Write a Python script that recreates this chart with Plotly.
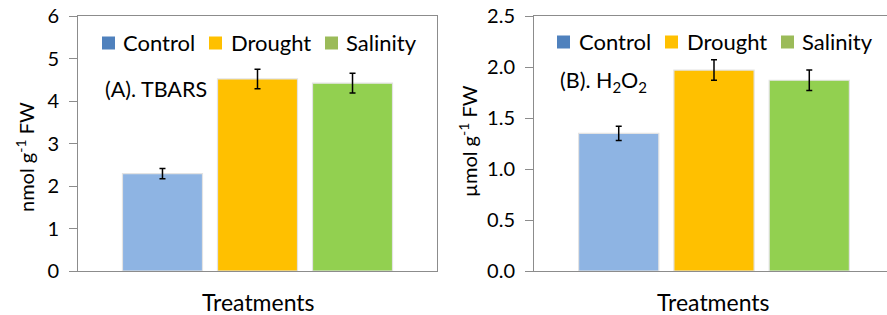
import plotly.graph_objects as go

# ---- data ----
treatments = ["Control", "Drought", "Salinity"]
tbars_vals = [2.29, 4.52, 4.42]
tbars_err = [0.12, 0.23, 0.23]
h2o2_vals = [1.35, 1.97, 1.87]
h2o2_err = [0.07, 0.10, 0.10]
bar_colors = ["#8EB4E3", "#FFC000", "#92D050"]
legend_colors = ["#4F81BD", "#FFC000", "#9BBB59"]
tbars_ticks = [0, 1, 2, 3, 4, 5, 6]
h2o2_ticks = [0.0, 0.5, 1.0, 1.5, 2.0, 2.5]
h2o2_ticktext = ["0.0", "0.5", "1.0", "1.5", "2.0", "2.5"]
x_cat = ["Treatments"]

W, H = 887, 315
FONT = "Lato"
AX = "#8C8C8C"

fig = go.Figure()
for i, t in enumerate(treatments):
    fig.add_trace(go.Bar(
        x=x_cat, y=[tbars_vals[i]], name=t, showlegend=False,
        marker=dict(color=bar_colors[i], line=dict(color="#E3E3E3", width=1.2)),
        error_y=dict(type="data", array=[tbars_err[i]], color="black", thickness=1.5, width=3),
        xaxis="x", yaxis="y", offsetgroup=str(i)))
for i, t in enumerate(treatments):
    fig.add_trace(go.Bar(
        x=x_cat, y=[h2o2_vals[i]], name=t, showlegend=False,
        marker=dict(color=bar_colors[i], line=dict(color="#E3E3E3", width=1.2)),
        error_y=dict(type="data", array=[h2o2_err[i]], color="black", thickness=1.5, width=3),
        xaxis="x2", yaxis="y2", offsetgroup=str(i)))

def px(x):
    return x / W

def py(y):
    return 1 - y / H

ydom = [py(271), py(16)]
axis_common = dict(showline=True, linecolor=AX, linewidth=1, showgrid=False, zeroline=False,
                   automargin=False)

fig.update_layout(
    width=W, height=H, margin=dict(l=0, r=0, t=0, b=0, pad=0, autoexpand=False),
    paper_bgcolor="white", plot_bgcolor="white",
    barmode="group", bargap=0.206, bargroupgap=0.158,
    showlegend=False,
    font=dict(family=FONT, color="#000000"),
    xaxis=dict(domain=[px(78), px(437)], range=[-0.5, 0.5], showticklabels=False, ticks="",
               mirror=True, anchor="y", **axis_common),
    yaxis=dict(domain=ydom, range=[0, 6], tickvals=tbars_ticks, ticks="outside", ticklen=8,
               tickcolor=AX, tickfont=dict(size=20, family=FONT), mirror=True, anchor="x",
               ticklabelstandoff=6, **axis_common),
    xaxis2=dict(domain=[px(534), 1], range=[-0.5, 0.5 - 7 / 360], showticklabels=False, ticks="",
                mirror=True, anchor="y2", **axis_common),
    yaxis2=dict(domain=ydom, range=[0, 2.5], tickvals=h2o2_ticks, ticktext=h2o2_ticktext,
                ticks="outside", ticklen=8, tickcolor=AX, tickfont=dict(size=20, family=FONT),
                anchor="x2", ticklabelstandoff=6, **axis_common),
)

ann = []
shapes = []
# axis titles
ann.append(dict(text="Treatments", x=px(258), y=py(302), xref="paper", yref="paper",
                showarrow=False, font=dict(size=23), xanchor="center", yanchor="middle"))
ann.append(dict(text="Treatments", x=px(713), y=py(302), xref="paper", yref="paper",
                showarrow=False, font=dict(size=23), xanchor="center", yanchor="middle"))
ann.append(dict(text="nmol g<sup>-1</sup> FW", x=px(25), y=py(157), xref="paper", yref="paper",
                showarrow=False, font=dict(size=20), textangle=-90, xanchor="center", yanchor="middle"))
ann.append(dict(text="µmol g<sup>-1</sup> FW", x=px(468), y=py(141), xref="paper", yref="paper",
                showarrow=False, font=dict(size=20), textangle=-90, xanchor="center", yanchor="middle"))
# panel labels
ann.append(dict(text="(A). TBARS", x=px(103), y=py(89), xref="paper", yref="paper",
                showarrow=False, font=dict(size=21.5), xanchor="left", yanchor="middle"))
ann.append(dict(text="(B). H<sub>2</sub>O<sub>2</sub>", x=px(558), y=py(82), xref="paper", yref="paper",
                showarrow=False, font=dict(size=21.5), xanchor="left", yanchor="middle"))

# custom legends
legend_layouts = [
    ([102, 209, 325], [121, 229, 344], 43),
    ([557, 665, 781], [577, 685, 800], 42),
]
for sq_x, tx_x, yc in legend_layouts:
    for i, t in enumerate(treatments):
        shapes.append(dict(type="rect", xref="paper", yref="paper",
                           x0=px(sq_x[i]), x1=px(sq_x[i] + 13), y0=py(yc + 6.5), y1=py(yc - 6.5),
                           fillcolor=legend_colors[i], line=dict(width=0)))
        ann.append(dict(text=t, x=px(tx_x[i]), y=py(yc), xref="paper", yref="paper",
                        showarrow=False, font=dict(size=22), xanchor="left", yanchor="middle"))

fig.update_layout(annotations=ann, shapes=shapes)
fig.write_html("out.html", config={"displayModeBar": False},
               post_script="document.body.style.margin='0';document.body.style.overflow='hidden';")
